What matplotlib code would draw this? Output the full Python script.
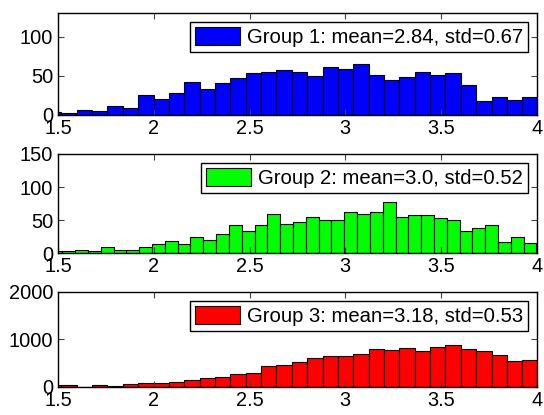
import numpy as np
import matplotlib
matplotlib.use("Agg")
import matplotlib.pyplot as plt

plt.rcParams['font.family'] = ['Liberation Sans', 'DejaVu Sans']

# histogram counts (bins partly clipped by xlim 1.5..4)
g1_counts = [4, 3, 7, 5, 11, 9, 25, 20, 28, 42, 33, 41, 47, 53, 55, 57,
             55, 50, 61, 58, 65, 51, 45, 48, 55, 51, 53, 38, 18, 23, 19, 23]
g2_counts = [3, 3, 5, 3, 10, 5, 5, 9, 14, 18, 14, 25, 20, 29, 43, 33, 43, 60, 45,
             48, 55, 50, 51, 63, 60, 63, 78, 55, 58, 58, 53, 50, 33, 38, 43, 17, 25, 15]
g3_counts = [33, 33, 5, 33, 27, 60, 81, 78, 98, 142, 185, 205, 262, 296, 438, 462,
             518, 613, 656, 656, 700, 790, 785, 808, 765, 832, 882, 792, 765, 680, 538, 559]

g1_start, g1_width = 1.4374, 0.0802
g2_start, g2_width = 1.4555, 0.0669
g3_start, g3_width = 1.4374, 0.0802

labels = ['Group 1: mean=2.84, std=0.67',
          'Group 2: mean=3.0, std=0.52',
          'Group 3: mean=3.18, std=0.53']
colors = ['#0000ff', '#00ff00', '#ff0000']
ylims = [130, 150, 2000]
yticks = [[0, 50, 100], [0, 50, 100, 150], [0, 1000, 2000]]
xticks = [1.5, 2, 2.5, 3, 3.5, 4]

fig = plt.figure(figsize=(5.44, 4.15), dpi=100)
boxes = [[0.1066, 0.7229, 0.8804, 0.2458],
         [0.1066, 0.3896, 0.8804, 0.2394],
         [0.1066, 0.0680, 0.8804, 0.2284]]

groups = [(g1_counts, g1_start, g1_width),
          (g2_counts, g2_start, g2_width),
          (g3_counts, g3_start, g3_width)]

for i, (counts, start, width) in enumerate(groups):
    ax = fig.add_axes(boxes[i])
    lefts = start + width * np.arange(len(counts))
    ax.bar(lefts, counts, width=width, align='edge', color=colors[i],
           edgecolor='black', linewidth=0.8, label=labels[i])
    ax.set_xlim(1.5, 4)
    ax.set_ylim(0, ylims[i])
    ax.set_xticks(xticks)
    ax.set_xticklabels(['1.5', '2', '2.5', '3', '3.5', '4'])
    ax.set_yticks(yticks[i])
    ax.tick_params(direction='in', top=True, right=True, length=4,
                   width=0.8, labelsize=14.4, color='#444444')
    ax.tick_params(axis='x', pad=3)
    ax.tick_params(axis='y', pad=3.5)
    for sp in ax.spines.values():
        sp.set_linewidth(1.0)
    leg = ax.legend(loc='upper right', fontsize=14.6, fancybox=False,
                    framealpha=1, edgecolor='black', handlelength=2.2,
                    handleheight=1.0, handletextpad=0.35, borderpad=0.25,
                    borderaxespad=0.45)
    leg.get_frame().set_linewidth(1.0)

fig.savefig('out.png', dpi=100)
